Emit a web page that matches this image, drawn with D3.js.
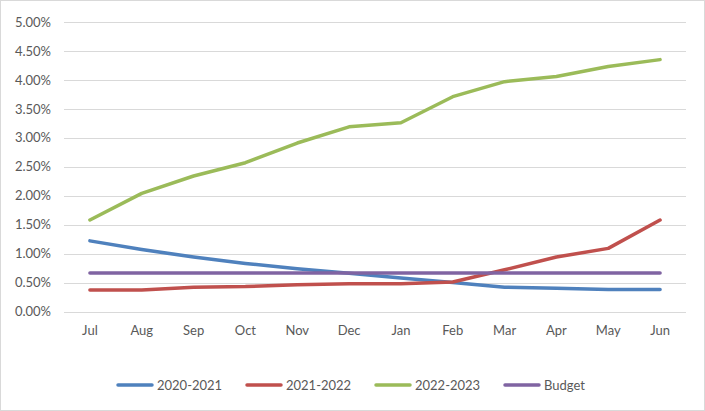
<!DOCTYPE html>
<html><head><meta charset="utf-8">
<script src="https://cdn.jsdelivr.net/npm/d3@7"></script>
<style>body{margin:0;background:#fff;}svg{display:block;}</style>
</head><body>
<script>
const months = ["Jul","Aug","Sep","Oct","Nov","Dec","Jan","Feb","Mar","Apr","May","Jun"];
const s2020 = [1.22,1.07,0.94,0.83,0.74,0.66,0.58,0.50,0.42,0.40,0.38,0.38];
const s2021 = [0.37,0.37,0.42,0.43,0.46,0.48,0.48,0.51,0.72,0.94,1.09,1.58];
const s2022 = [1.58,2.04,2.34,2.57,2.91,3.19,3.26,3.71,3.97,4.06,4.23,4.35];
const budget = [0.665,0.665,0.665,0.665,0.665,0.665,0.665,0.665,0.665,0.665,0.665,0.665];
const seriesNames = ["2020-2021","2021-2022","2022-2023","Budget"];
const colors = ["#4f81bd","#c0504d","#9bbb59","#8064a2"];
const yTicks = [0,0.5,1,1.5,2,2.5,3,3.5,4,4.5,5];

const W=705,H=411;
const svg=d3.select("body").append("svg").attr("width",W).attr("height",H);
svg.append("rect").attr("x",0.5).attr("y",0.5).attr("width",W-1).attr("height",H-1).attr("fill","#fff").attr("stroke","#d9d9d9");

const x=d3.scaleBand().domain(months).range([64,686]);
const y=d3.scaleLinear().domain([0,5]).range([311.5,22]);
const font="Lato, 'Open Sans', sans-serif";

// gridlines
svg.append("g").selectAll("line").data(yTicks).join("line")
  .attr("x1",64).attr("x2",686).attr("y1",d=>Math.round(y(d))+0.5).attr("y2",d=>Math.round(y(d))+0.5)
  .attr("stroke","#d9d9d9").attr("stroke-width",1);

// y axis labels
const yAxis=d3.axisLeft(y).tickValues(yTicks).tickSize(0).tickPadding(13).tickFormat(d=>d.toFixed(2)+"%");
const ya=svg.append("g").attr("transform","translate(64,0)").call(yAxis);
ya.select(".domain").remove();
ya.selectAll("text").attr("fill","#595959").attr("font-size","13px").attr("font-family",font);

// x axis labels
const xAxis=d3.axisBottom(x).tickSize(0).tickPadding(14);
const xa=svg.append("g").attr("transform","translate(0,311.5)").call(xAxis);
xa.select(".domain").remove();
xa.selectAll("text").attr("fill","#595959").attr("font-size","13px").attr("font-family",font);

const data=[s2020,s2021,s2022,budget];
const line=d3.line().x((d,i)=>x(months[i])+x.bandwidth()/2).y(d=>y(d));
svg.append("g").selectAll("path").data(data).join("path")
  .attr("d",line).attr("fill","none").attr("stroke",(d,i)=>colors[i])
  .attr("stroke-width",3.5).attr("stroke-linecap","round").attr("stroke-linejoin","round");

// legend
const legX=[118,247,376,505];
const lg=svg.append("g");
seriesNames.forEach((n,i)=>{
  lg.append("line").attr("x1",legX[i]).attr("x2",legX[i]+34).attr("y1",385).attr("y2",385)
    .attr("stroke",colors[i]).attr("stroke-width",3.5).attr("stroke-linecap","round");
  lg.append("text").attr("x",legX[i]+39).attr("y",389.5).text(n)
    .attr("fill","#595959").attr("font-size","13px").attr("font-family",font);
});
</script>
</body></html>
